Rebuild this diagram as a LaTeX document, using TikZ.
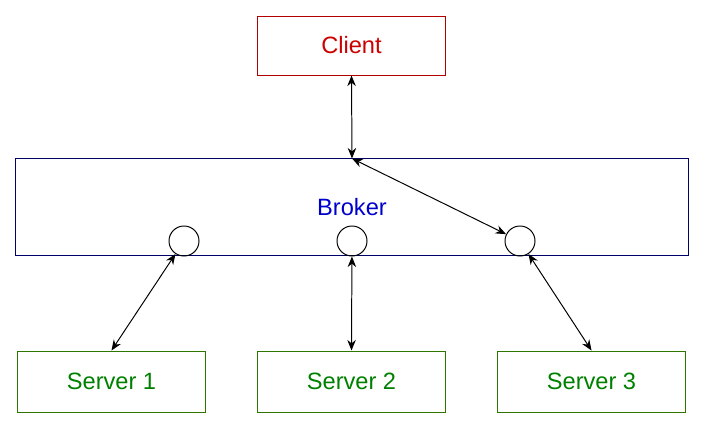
\documentclass[tikz,border=0pt]{standalone}
\usepackage{fontspec}
\setmainfont{Liberation Sans}
\usetikzlibrary{arrows.meta}

\definecolor{clientred}{HTML}{B20000}
\definecolor{clienttext}{HTML}{CC0000}
\definecolor{brokernavy}{HTML}{000066}
\definecolor{brokertext}{HTML}{0000CC}
\definecolor{servergreen}{HTML}{2D7600}
\definecolor{servertext}{HTML}{008000}

\begin{document}
\begin{tikzpicture}[x=0.025cm, y=-0.025cm, line width=0.7pt,
	arrows={{Stealth[length=7.5pt,width=6pt]}-{Stealth[length=7.5pt,width=6pt]}},
	box/.style={draw, rectangle, minimum width=4.675cm, font=\fontsize{16.8}{19}\selectfont},
	port/.style={draw, circle, minimum size=0.75cm, inner sep=0pt}]
	\useasboundingbox (0,0) rectangle (704,428);
	\node[box, draw=clientred, text=clienttext, minimum height=1.475cm] (C) at (351.5,45.5) {Client};
	\node[box, draw=brokernavy, text=brokertext, minimum width=16.8cm, minimum height=2.4cm] (B) at (352,207) {Broker};
	\node[port] (P1) at (184,241) {};
	\node[port] (P2) at (352,241) {};
	\node[port] (P3) at (520,241) {};
	\node[box, draw=servergreen, text=servertext, minimum height=1.525cm] (S1) at (111.5,381.5) {Server 1};
	\node[box, draw=servergreen, text=servertext, minimum height=1.525cm] (S2) at (351.5,381.5) {Server 2};
	\node[box, draw=servergreen, text=servertext, minimum height=1.525cm] (S3) at (591.5,381.5) {Server 3};
	\draw (C.south) to (B.north);
	\draw (B.north) to (P3);
	\draw (P1) to (S1.north);
	\draw (P2) to (S2.north);
	\draw (P3) to (S3.north);
\end{tikzpicture}
\end{document}
